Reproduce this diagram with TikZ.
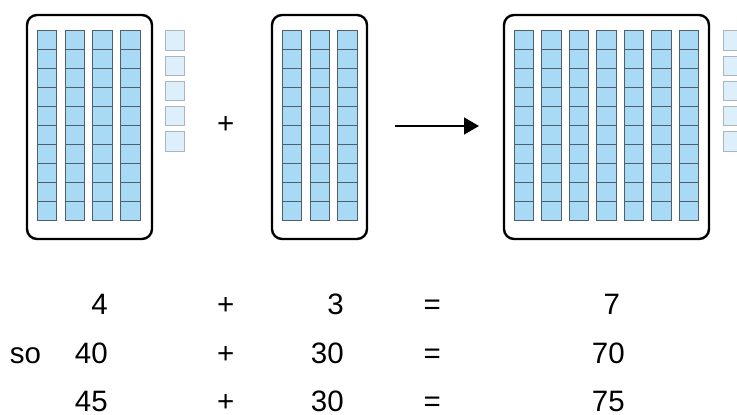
\documentclass[tikz,border=0pt]{standalone}
\usepackage{fontspec}
\setmainfont{Liberation Sans}
\usetikzlibrary{arrows.meta}
\definecolor{cellfill}{HTML}{A8DAF5}
\definecolor{celldraw}{HTML}{4F5F6B}
\definecolor{loosefill}{HTML}{DDEFFB}
\definecolor{loosedraw}{HTML}{ABB5BC}
\tikzset{
  frame/.style={draw=black, line width=2.4pt, rounded corners=10pt, minimum height=224pt, inner sep=0pt},
  cell/.style={draw=celldraw, fill=cellfill, line width=0.9pt},
  loose/.style={draw=loosedraw, fill=loosefill, line width=1pt},
  txt/.style={font=\fontsize{29.5}{32}\selectfont, inner sep=0pt},
  link/.style={line width=1.5pt, -{Triangle[length=15pt,width=17pt]}}
}
\begin{document}
\begin{tikzpicture}[x=1pt,y=-1pt]
\useasboundingbox (0,0) rectangle (737,415);
% frames
\node[frame, minimum width=125pt] (L) at (89.5,127) {};
\node[frame, minimum width=95pt] (M) at (319.5,127) {};
\node[frame, minimum width=205pt] (R) at (606.5,127) {};
% left rods
\foreach \c in {0,...,3} {
  \foreach \r in {0,...,9} {
    \draw[cell] (37.3+27.8*\c, 30.7+19*\r) rectangle ++(19.5,19);
  }
}
% middle rods
\foreach \c in {0,...,2} {
  \foreach \r in {0,...,9} {
    \draw[cell] (282.3+27.7*\c, 30.7+19*\r) rectangle ++(19.5,19);
  }
}
% right rods
\foreach \c in {0,...,6} {
  \foreach \r in {0,...,9} {
    \draw[cell] (514+27.5*\c, 30.7+19*\r) rectangle ++(19.5,19);
  }
}
% loose cubes
\foreach \r in {0,...,4} {
  \draw[loose] (165.3, 30.7+25.3*\r) rectangle ++(19.3,19.3);
  \draw[loose] (723.3, 30.7+25.3*\r) rectangle ++(19.3,19.3);
}
% plus and arrow
\node[txt] (plus) at (225.7,125) {+};
\coordinate (a1) at (395,126);
\coordinate (a2) at (479,126);
\draw[link] (a1) -- (a2);
% equations
\node[txt, anchor=base east] (n1) at (108,314) {4};
\node[txt, anchor=base] (p1) at (225.7,314) {+};
\node[txt, anchor=base east] (m1) at (344,314) {3};
\node[txt, anchor=base] (e1) at (432.3,314) {=};
\node[txt, anchor=base] (r1) at (611.7,314) {7};
\node[txt, anchor=base] (so) at (25.5,363) {so};
\node[txt, anchor=base east] (n2) at (108,363) {40};
\node[txt, anchor=base] (p2) at (225.7,363) {+};
\node[txt, anchor=base east] (m2) at (344,363) {30};
\node[txt, anchor=base] (e2) at (432.3,363) {=};
\node[txt, anchor=base] (r2) at (608.3,363) {70};
\node[txt, anchor=base east] (n3) at (108,411) {45};
\node[txt, anchor=base] (p3) at (225.7,411) {+};
\node[txt, anchor=base east] (m3) at (344,411) {30};
\node[txt, anchor=base] (e3) at (432.3,411) {=};
\node[txt, anchor=base] (r3) at (608.3,411) {75};
\end{tikzpicture}
\end{document}
